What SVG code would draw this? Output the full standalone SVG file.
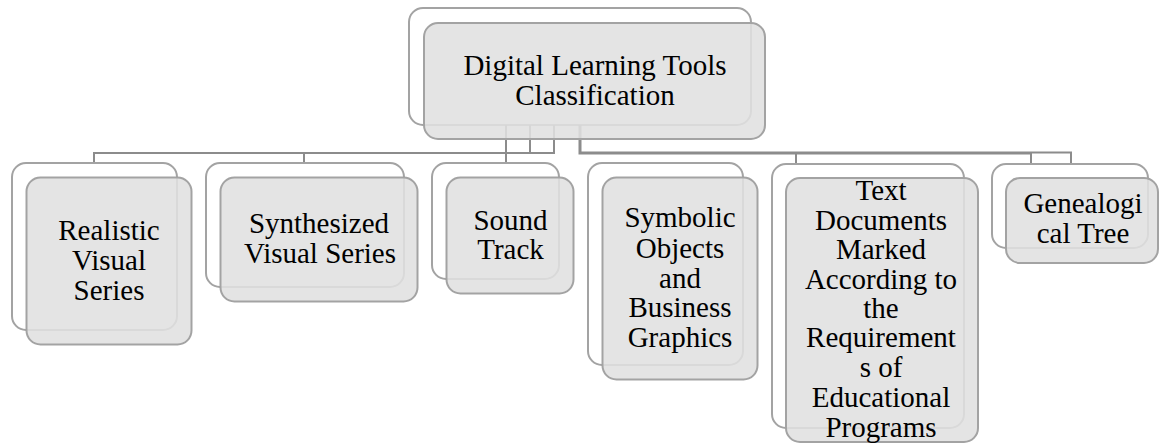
<svg xmlns="http://www.w3.org/2000/svg" width="1162" height="445" viewBox="0 0 1162 445">
<style>
.back{fill:#ffffff;stroke:#a3a3a3;stroke-width:2}
.front{fill:#e0e0e0;fill-opacity:0.88;stroke:#a3a3a3;stroke-width:2}
.conn{fill:none;stroke:#8c8c8c;stroke-width:2}
.thick{stroke-width:3}
text{font-family:"Liberation Serif","Times New Roman",serif;font-size:29px;fill:#000;text-anchor:middle}
</style>
<rect width="1162" height="445" fill="#ffffff"/>
<g id="root-back"><rect class="back" x="409" y="8" width="342" height="117" rx="14"/></g>
<g id="connectors">
<path class="conn" d="M554,125 V153 H94 V163"/>
<path class="conn" d="M530,125 V153"/>
<path class="conn" d="M506,125 V163"/>
<path class="conn" d="M304,153 V163"/>
<path class="conn thick" d="M580,125 V153 H1031"/>
<path class="conn" d="M1031,153 V164"/>
<path class="conn" d="M1031,152.5 H1071 V164"/>
<path class="conn" d="M796,153 V164"/>
</g>
<g id="root">
<rect class="front" x="424" y="23" width="341" height="116" rx="14"/>
<text x="595" y="75">Digital Learning Tools</text>
<text x="595" y="105">Classification</text>
</g>
<g id="realistic">
<rect class="back" x="12" y="163" width="165" height="167" rx="14"/>
<rect class="front" x="26.5" y="177.5" width="165" height="167" rx="14"/>
<text x="109" y="240">Realistic</text>
<text x="109" y="270">Visual</text>
<text x="109" y="300">Series</text>
</g>
<g id="synthesized">
<rect class="back" x="206" y="163" width="198" height="124" rx="14"/>
<rect class="front" x="220.5" y="177.5" width="197" height="124" rx="14"/>
<text x="319" y="233">Synthesized</text>
<text x="320" y="263">Visual Series</text>
</g>
<g id="sound">
<rect class="back" x="432" y="163" width="127" height="116" rx="14"/>
<rect class="front" x="446.5" y="177.5" width="127" height="116" rx="14"/>
<text x="510.5" y="230">Sound</text>
<text x="510.5" y="259">Track</text>
</g>
<g id="symbolic">
<rect class="back" x="588" y="163" width="155" height="202" rx="14"/>
<rect class="front" x="602.5" y="177.5" width="155" height="202" rx="14"/>
<text x="680" y="227">Symbolic</text>
<text x="680" y="258">Objects</text>
<text x="680" y="288">and</text>
<text x="680" y="317">Business</text>
<text x="680" y="347">Graphics</text>
</g>
<g id="textdocs">
<rect class="back" x="772" y="164" width="192" height="264" rx="14"/>
<rect class="front" x="786" y="178" width="192" height="264" rx="14"/>
<text x="881" y="200">Text</text>
<text x="881" y="230">Documents</text>
<text x="881" y="259">Marked</text>
<text x="881" y="289">According to</text>
<text x="881" y="318">the</text>
<text x="881" y="347">Requirement</text>
<text x="881" y="377">s of</text>
<text x="881" y="407">Educational</text>
<text x="881" y="437">Programs</text>
</g>
<g id="genealogical">
<rect class="back" x="992" y="164" width="156" height="84" rx="14"/>
<rect class="front" x="1006" y="178" width="152" height="85" rx="14"/>
<text x="1083" y="213">Genealogi</text>
<text x="1083" y="243">cal Tree</text>
</g>
</svg>
